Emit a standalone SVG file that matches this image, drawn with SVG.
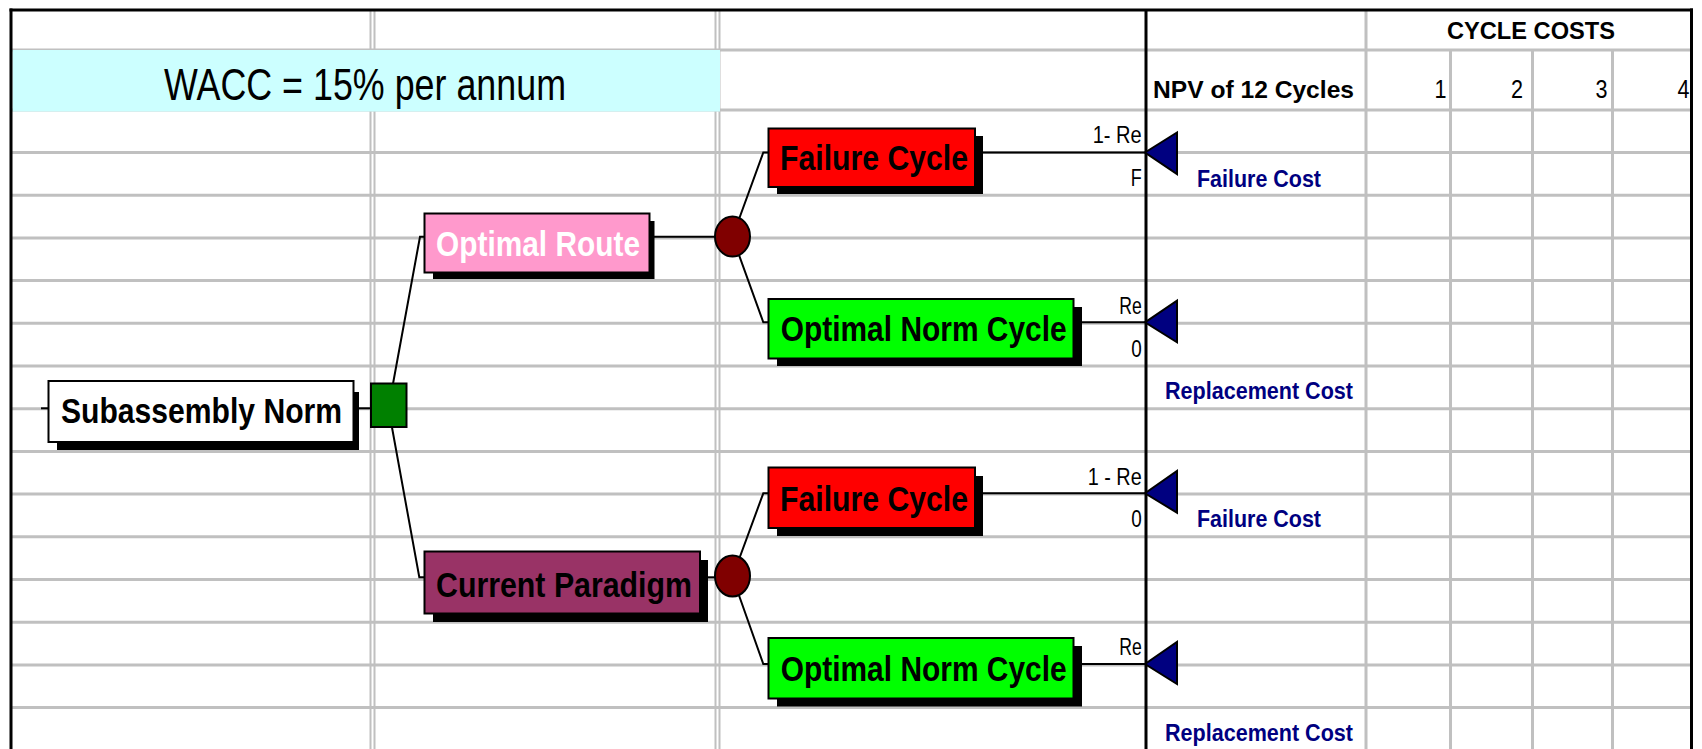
<svg xmlns="http://www.w3.org/2000/svg" width="1702" height="749" viewBox="0 0 1702 749">
<style>
.grid{stroke:#c0c0c0;stroke-width:3}
.grid2{stroke:#c0c0c0;stroke-width:2}
.border{stroke:#000;stroke-width:3}
.conn{stroke:#000;stroke-width:2;fill:none}
.box{stroke:#000;stroke-width:2}
.shadow{fill:#000}
.t{font-family:"Liberation Sans",Arial,sans-serif}
.lbl{font-weight:bold;font-size:35px}
.small{font-size:23px;fill:#000;text-anchor:end}
.cost{font-weight:bold;font-size:23px;fill:#000080}
.hdr{font-weight:bold;font-size:24px;fill:#000}
.num{font-size:26px;fill:#000;text-anchor:end}
.term{fill:#000080;stroke:#000;stroke-width:2;stroke-linejoin:miter}
.chance{fill:#800000;stroke:#000;stroke-width:2}
</style>
<rect x="0" y="0" width="1702" height="749" fill="#fff"/>
<g id="grid">
  <line class="grid" x1="11" y1="50" x2="1691" y2="50"/>
  <line class="grid" x1="11" y1="110" x2="1691" y2="110"/>
  <line class="grid" x1="11" y1="152.5" x2="1691" y2="152.5"/>
  <line class="grid" x1="11" y1="195.2" x2="1691" y2="195.2"/>
  <line class="grid" x1="11" y1="237.9" x2="1691" y2="237.9"/>
  <line class="grid" x1="11" y1="280.6" x2="1691" y2="280.6"/>
  <line class="grid" x1="11" y1="323.3" x2="1691" y2="323.3"/>
  <line class="grid" x1="11" y1="366" x2="1691" y2="366"/>
  <line class="grid" x1="11" y1="408.7" x2="1691" y2="408.7"/>
  <line class="grid" x1="11" y1="451.4" x2="1691" y2="451.4"/>
  <line class="grid" x1="11" y1="494.1" x2="1691" y2="494.1"/>
  <line class="grid" x1="11" y1="536.8" x2="1691" y2="536.8"/>
  <line class="grid" x1="11" y1="579.5" x2="1691" y2="579.5"/>
  <line class="grid" x1="11" y1="622.2" x2="1691" y2="622.2"/>
  <line class="grid" x1="11" y1="664.9" x2="1691" y2="664.9"/>
  <line class="grid" x1="11" y1="707.6" x2="1691" y2="707.6"/>
  <line class="grid2" x1="370.5" y1="10" x2="370.5" y2="749"/>
  <line class="grid2" x1="374.5" y1="10" x2="374.5" y2="749"/>
  <line class="grid2" x1="715.5" y1="10" x2="715.5" y2="749"/>
  <line class="grid2" x1="719.5" y1="10" x2="719.5" y2="749"/>
  <line class="grid" x1="1366" y1="10" x2="1366" y2="749"/>
  <line class="grid" x1="1450.5" y1="50" x2="1450.5" y2="749"/>
  <line class="grid" x1="1532.5" y1="50" x2="1532.5" y2="749"/>
  <line class="grid" x1="1612.5" y1="50" x2="1612.5" y2="749"/>
  <rect x="12.5" y="50" width="707.5" height="61.5" fill="#ccffff"/>
  <line class="border" x1="1146" y1="10" x2="1146" y2="749"/>
  <line class="border" x1="9.5" y1="10" x2="1693" y2="10"/>
  <line class="border" x1="11" y1="8.5" x2="11" y2="749"/>
  <line class="border" x1="1691.5" y1="8.5" x2="1691.5" y2="749"/>
</g>
<g id="header">
  <text class="t" x="164" y="100" font-size="45" textLength="402" lengthAdjust="spacingAndGlyphs">WACC = 15% per annum</text>
  <text class="t hdr" x="1447" y="39" textLength="168" lengthAdjust="spacingAndGlyphs">CYCLE COSTS</text>
  <text class="t hdr" x="1153" y="98.3" textLength="201" lengthAdjust="spacingAndGlyphs">NPV of 12 Cycles</text>
  <text class="t num" x="1446.5" y="98.3" textLength="12" lengthAdjust="spacingAndGlyphs">1</text>
  <text class="t num" x="1523" y="98.3" textLength="12" lengthAdjust="spacingAndGlyphs">2</text>
  <text class="t num" x="1607.5" y="98.3" textLength="12" lengthAdjust="spacingAndGlyphs">3</text>
  <text class="t num" x="1689.5" y="98.3" textLength="12" lengthAdjust="spacingAndGlyphs">4</text>
</g>
<g id="connectors">
  <path class="conn" d="M41,408.3 H49"/>
  <path class="conn" d="M358,408.3 H372"/>
  <path class="conn" d="M388.5,408.3 L420,236.7 H425"/>
  <path class="conn" d="M388.5,408.3 L419.3,577.3 H425"/>
  <path class="conn" d="M653,236.7 H732.5"/>
  <path class="conn" d="M732.5,237 L763.3,152.5 H769"/>
  <path class="conn" d="M732.5,237 L763.3,322.3 H769"/>
  <path class="conn" d="M706,577.3 H732.5"/>
  <path class="conn" d="M732.5,577 L763.3,493.3 H769"/>
  <path class="conn" d="M732.5,577 L763.3,664 H769"/>
  <path class="conn" d="M981,152.5 H1145"/>
  <path class="conn" d="M1080,322.3 H1145"/>
  <path class="conn" d="M981,493.3 H1145"/>
  <path class="conn" d="M1080,664 H1145"/>
</g>
<g id="node-subassembly">
  <rect class="shadow" x="57" y="392" width="302" height="58"/>
  <rect class="box" x="48.5" y="381" width="305" height="61" fill="#fff"/>
  <text class="t lbl" x="61" y="423.3" textLength="281" lengthAdjust="spacingAndGlyphs">Subassembly Norm</text>
</g>
<g id="node-decision">
  <rect class="box" x="371" y="383.5" width="35.5" height="43.5" fill="#008000"/>
</g>
<g id="node-optimal-route">
  <rect class="shadow" x="433" y="221" width="221.5" height="58"/>
  <rect class="box" x="424.5" y="213.5" width="225" height="59" fill="#ff99cc"/>
  <text class="t lbl" x="436" y="255.7" fill="#fff" textLength="204" lengthAdjust="spacingAndGlyphs">Optimal Route</text>
</g>
<g id="node-current-paradigm">
  <rect class="shadow" x="433" y="560" width="275" height="62"/>
  <rect class="box" x="424.5" y="551.5" width="275.5" height="62" fill="#993366"/>
  <text class="t lbl" x="436" y="596.7" textLength="256" lengthAdjust="spacingAndGlyphs">Current Paradigm</text>
</g>
<g id="node-chance-1">
  <ellipse class="chance" cx="732.5" cy="236.5" rx="17.5" ry="20"/>
</g>
<g id="node-chance-2">
  <ellipse class="chance" cx="732.5" cy="576" rx="17.5" ry="20.5"/>
</g>
<g id="node-failure-1">
  <rect class="shadow" x="777" y="136" width="206" height="58"/>
  <rect class="box" x="768.5" y="128.5" width="206.5" height="58.5" fill="#ff0000"/>
  <text class="t lbl" x="780" y="170" font-size="37" textLength="188" lengthAdjust="spacingAndGlyphs">Failure Cycle</text>
</g>
<g id="node-optimal-norm-1">
  <rect class="shadow" x="777" y="307" width="305" height="59"/>
  <rect class="box" x="768.5" y="299" width="305" height="59.5" fill="#00ff00"/>
  <text class="t lbl" x="780.7" y="340.7" font-size="37" textLength="286" lengthAdjust="spacingAndGlyphs">Optimal Norm Cycle</text>
</g>
<g id="node-failure-2">
  <rect class="shadow" x="777" y="476" width="206" height="60"/>
  <rect class="box" x="768.5" y="467.5" width="206.5" height="60.5" fill="#ff0000"/>
  <text class="t lbl" x="780" y="510.7" font-size="37" textLength="188" lengthAdjust="spacingAndGlyphs">Failure Cycle</text>
</g>
<g id="node-optimal-norm-2">
  <rect class="shadow" x="777" y="646" width="305" height="60.5"/>
  <rect class="box" x="768.5" y="638" width="305" height="60.5" fill="#00ff00"/>
  <text class="t lbl" x="780.7" y="680.5" font-size="37" textLength="286" lengthAdjust="spacingAndGlyphs">Optimal Norm Cycle</text>
</g>
<g id="node-terminal-1">
  <polygon class="term" points="1145,152.5 1177,132.5 1177,174"/>
  <text class="t small" x="1141.7" y="143.3" textLength="49" lengthAdjust="spacingAndGlyphs">1- Re</text>
  <text class="t small" x="1141.7" y="186" textLength="11" lengthAdjust="spacingAndGlyphs">F</text>
  <text class="t cost" x="1197" y="186.7" textLength="124" lengthAdjust="spacingAndGlyphs">Failure Cost</text>
</g>
<g id="node-terminal-2">
  <polygon class="term" points="1145,322.3 1177,300.7 1177,342.3"/>
  <text class="t small" x="1141.7" y="313.5" textLength="22.5" lengthAdjust="spacingAndGlyphs">Re</text>
  <text class="t small" x="1141.7" y="356.7" textLength="10.5" lengthAdjust="spacingAndGlyphs">0</text>
  <text class="t cost" x="1165" y="399.3" textLength="188" lengthAdjust="spacingAndGlyphs">Replacement Cost</text>
</g>
<g id="node-terminal-3">
  <polygon class="term" points="1145,493.3 1177,471 1177,512.7"/>
  <text class="t small" x="1141.7" y="485" textLength="54" lengthAdjust="spacingAndGlyphs">1 - Re</text>
  <text class="t small" x="1141.7" y="527.3" textLength="10.5" lengthAdjust="spacingAndGlyphs">0</text>
  <text class="t cost" x="1197" y="527" textLength="124" lengthAdjust="spacingAndGlyphs">Failure Cost</text>
</g>
<g id="node-terminal-4">
  <polygon class="term" points="1145,664 1177,642 1177,684"/>
  <text class="t small" x="1141.7" y="655" textLength="22.5" lengthAdjust="spacingAndGlyphs">Re</text>
  <text class="t cost" x="1165" y="740.7" textLength="188" lengthAdjust="spacingAndGlyphs">Replacement Cost</text>
</g>
</svg>
